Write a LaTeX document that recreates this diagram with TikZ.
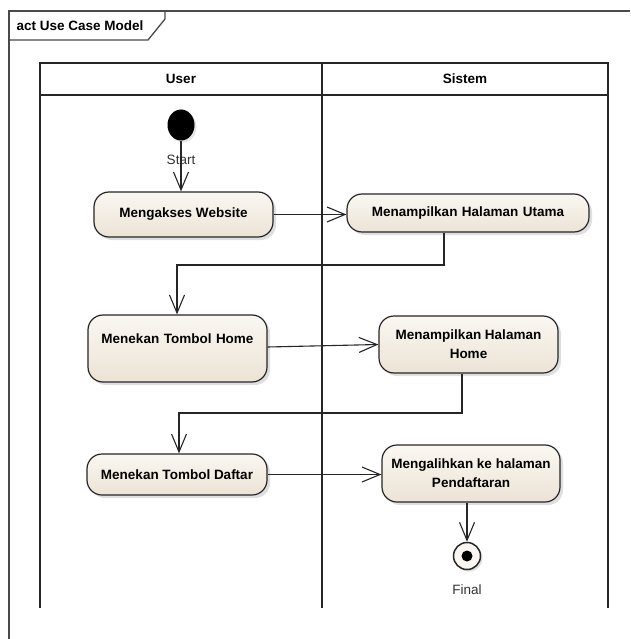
\documentclass[tikz,border=0pt]{standalone}
\usepackage{fontspec}
\setmainfont{Liberation Sans}
\usetikzlibrary{arrows.meta,shadows,calc,shapes.geometric}

\definecolor{linecol}{HTML}{262626}
\definecolor{framecol}{HTML}{4A4A4A}
\definecolor{actlight}{HTML}{FAF7F2}
\definecolor{actdark}{HTML}{ECE3D5}

\tikzset{
  frameline/.style={draw=framecol, line width=1.3pt},
  laneline/.style={draw=linecol, line width=1.4pt},
  action/.style={draw=linecol, line width=1.2pt, rounded corners=15pt,
    top color=actlight, bottom color=actdark,
    drop shadow={shadow xshift=3pt, shadow yshift=-3pt, opacity=0.25},
    font=\fontsize{13.5}{19}\selectfont\bfseries, align=center,
    inner sep=4pt},
  flow/.style={draw=linecol, line width=1.1pt,
    -{Straight Barb[length=18pt, width=15pt, line width=1.1pt]}},
  lbl/.style={font=\fontsize{13.5}{16}\selectfont, text=black!80},
  hdr/.style={font=\fontsize{13.5}{16}\selectfont\bfseries}
}

\begin{document}
\begin{tikzpicture}[x=1pt, y=-1pt]
  \useasboundingbox[fill=white] (0,0) rectangle (630,639);

  % diagram frame and its name tab
  \draw[frameline] (9,639) -- (9,11) -- (630,11);
  \draw[frameline] (9,40) -- (148,40) -- (165,19) -- (165,11);
  \node[hdr, anchor=west] (title) at (13,25.5) {act Use Case Model};

  % swimlanes
  \draw[laneline] (40,608) -- (40,63) -- (608,63) -- (608,608);
  \draw[laneline] (40,95) -- (608,95);
  \draw[laneline] (322,63) -- (322,608);
  \node[hdr] (laneUser) at (181,79) {User};
  \node[hdr] (laneSistem) at (465,79) {Sistem};

  % initial node
  \node[ellipse, fill=black, minimum width=27pt, minimum height=31pt, inner sep=0pt,
        drop shadow={shadow xshift=2pt, shadow yshift=-2pt, opacity=0.2}]
        (start) at (181,125) {};
  \node[lbl] (startlbl) at (181,160) {Start};

  % actions
  \node[action, minimum width=179pt, minimum height=45pt] (akses) at (183.5,214.5) {Mengakses Website};
  \node[action, text width=234pt, minimum height=38pt] (utama) at (468,213) {Menampilkan Halaman Utama};
  \node[action, text width=171pt, text height=24pt, text depth=35pt] (home) at (177.5,348.5) {Menekan Tombol Home};
  \node[action, minimum width=179pt, minimum height=57pt] (halhome) at (468.5,344.5) {Menampilkan Halaman\\Home};
  \node[action, minimum width=180pt, minimum height=41pt] (daftar) at (177,474.5) {Menekan Tombol Daftar};
  \node[action, minimum width=178pt, minimum height=57pt] (alih) at (471,473.5) {Mengalihkan ke halaman\\Pendaftaran};

  % final node
  \node[circle, draw=linecol, line width=1.5pt, fill=actlight, minimum size=27pt, inner sep=0pt,
        drop shadow={shadow xshift=2pt, shadow yshift=-2pt, opacity=0.25}]
        (final) at (467,556) {};
  \fill[black] (final.center) circle (5.5pt);
  \node[lbl] (finallbl) at (467,590) {Final};

  % bend points of the routed flows
  \coordinate (u1) at (444,265);
  \coordinate (u2) at (177,265);
  \coordinate (h1) at (462,413);
  \coordinate (h2) at (179,413);

  % control flows
  \draw[flow] (start) -- (start |- akses.north);
  \draw[flow] (akses.east) -- (akses.east -| utama.west);
  \draw[flow] (u1 |- utama.south) -- (u1) -- (u2) -- (u2 |- home.north);
  \draw[flow] (home.east |- 0,347) -- (halhome.west);
  \draw[flow] (h1 |- halhome.south) -- (h1) -- (h2) -- (h2 |- daftar.north);
  \draw[flow] (daftar.east) -- (daftar.east -| alih.west);
  \draw[flow] (final |- alih.south) -- (final.north);
\end{tikzpicture}
\end{document}
